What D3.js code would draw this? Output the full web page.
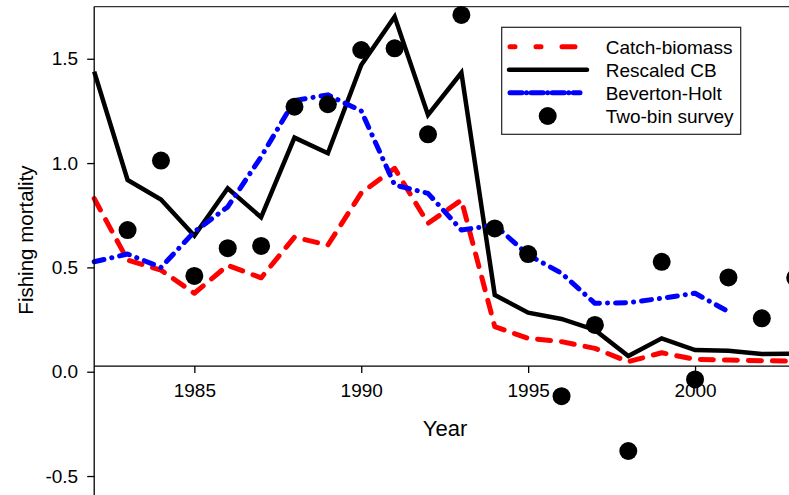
<!DOCTYPE html>
<html><head><meta charset="utf-8">
<script src="https://cdn.jsdelivr.net/npm/d3@7"></script>
<style>
body{margin:0;background:#fff}
svg{display:block}
text{font-family:"Liberation Sans",Arial,Helvetica,sans-serif;fill:#000}
</style>
</head><body>
<svg id="c" width="789" height="495"></svg>
<script>
// ---- data ----
const years = [1982,1983,1984,1985,1986,1987,1988,1989,1990,1991,1992,1993,1994,1995,1996,1997,1998,1999,2000,2001,2002,2003];
const catchBiomass = [0.83,0.535,0.487,0.376,0.51,0.45,0.645,0.607,0.857,0.975,0.711,0.823,0.216,0.16,0.144,0.112,0.048,0.091,0.059,0.056,0.053,0.05];
const rescaledCB = [1.438,0.919,0.825,0.652,0.879,0.74,1.122,1.047,1.47,1.702,1.231,1.433,0.368,0.283,0.253,0.2,0.075,0.16,0.104,0.1,0.085,0.087];
const bhYears = [1982,1983,1984,1985,1986,1987,1988,1989,1990,1991,1992,1993,1994,1995,1996,1997,1998,1999,2000,2001];
const bevertonHolt = [0.527,0.564,0.5,0.671,0.79,1.03,1.3,1.327,1.25,0.895,0.855,0.679,0.703,0.56,0.472,0.328,0.331,0.352,0.376,0.288];
const surveyYears = [1983,1984,1985,1986,1987,1988,1989,1990,1991,1992,1993,1994,1995,1996,1997,1998,1999,2000,2001,2002,2003];
const twoBinSurvey = [0.679,1.012,0.459,0.592,0.603,1.27,1.282,1.542,1.55,1.138,1.71,0.687,0.564,-0.117,0.224,-0.38,0.527,-0.037,0.452,0.256,0.45];
const xTicks = [1985,1990,1995,2000];
const yTicks = [-0.5,0.0,0.5,1.0,1.5];
const legendLabels = ["Catch-biomass","Rescaled CB","Beverton-Holt","Two-bin survey"];
const xAxisCross = 0.027;

// ---- layout ----
const svg = d3.select("#c");
const x = d3.scaleLinear().domain([1982, 2003]).range([94.2, 795.2]);
const y = d3.scaleLinear().domain([-0.6, 1.75]).range([496.9, 6.6]);
const font = 19;

// frame: top border
svg.append("line").attr("x1", x(1982)).attr("x2", 789).attr("y1", y(1.75)).attr("y2", y(1.75))
  .attr("stroke", "#333").attr("stroke-width", 1.3);

// series
const lineGen = (xs) => d3.line().x((d,i)=>x(xs[i])).y(d=>y(d));
svg.append("path").datum(catchBiomass).attr("d", lineGen(years))
  .attr("fill","none").attr("stroke","#ff0000").attr("stroke-width",5)
  .attr("stroke-dasharray","13,11").attr("stroke-linecap","round").attr("stroke-linejoin","round");
svg.append("path").datum(rescaledCB).attr("d", lineGen(years))
  .attr("fill","none").attr("stroke","#000").attr("stroke-width",4.5).attr("stroke-linejoin","miter");
svg.append("path").datum(bevertonHolt).attr("d", lineGen(bhYears))
  .attr("fill","none").attr("stroke","#0000ff").attr("stroke-width",5)
  .attr("stroke-dasharray","10,8,0.1,8").attr("stroke-linecap","round").attr("stroke-linejoin","round");
svg.append("g").selectAll("circle").data(twoBinSurvey).join("circle")
  .attr("cx",(d,i)=>x(surveyYears[i])).attr("cy",d=>y(d)).attr("r",9).attr("fill","#000");

// y axis
const yAxis = d3.axisLeft(y).tickValues(yTicks).tickFormat(d3.format(".1f")).tickSize(7).tickPadding(9);
const gy = svg.append("g").attr("transform",`translate(${x(1982)},0)`).call(yAxis);
gy.select(".domain").attr("d",`M0,${y(1.75)}V495`).attr("stroke","#000").attr("stroke-width",1.3);
gy.selectAll(".tick line").attr("stroke","#000").attr("stroke-width",1.3);
gy.selectAll(".tick text").attr("font-size",font).attr("font-family",null).attr("fill","#000");
gy.selectAll(".tick text").text(d => d < 0 ? "-" + Math.abs(d).toFixed(1) : d.toFixed(1));

// x axis
const xAxis = d3.axisBottom(x).tickValues(xTicks).tickFormat(d3.format("d")).tickSize(7).tickPadding(10);
const gx = svg.append("g").attr("transform",`translate(0,${y(xAxisCross)})`).call(xAxis);
gx.select(".domain").attr("d",`M${x(1982)},0H789`).attr("stroke","#000").attr("stroke-width",1.3);
gx.selectAll(".tick line").attr("stroke","#000").attr("stroke-width",1.3);
gx.selectAll(".tick text").attr("font-size",font).attr("font-family",null).attr("fill","#000");

// axis titles
svg.append("text").attr("x",445).attr("y",436).attr("text-anchor","middle").attr("font-size",22).text("Year");
svg.append("text").attr("transform","translate(33,240) rotate(-90)").attr("text-anchor","middle")
  .attr("font-size",20.5).text("Fishing mortality");

// legend
const lg = svg.append("g");
lg.append("rect").attr("x",501.7).attr("y",27.3).attr("width",239).attr("height",107)
  .attr("fill","#fff").attr("stroke","#222").attr("stroke-width",1.2);
const rowY = [46.7, 69.7, 92.7, 116];
lg.append("line").attr("x1",510).attr("x2",575).attr("y1",rowY[0]).attr("y2",rowY[0])
  .attr("stroke","#ff0000").attr("stroke-width",5).attr("stroke-linecap","round").attr("stroke-dasharray","5,21,5,21,13,100");
lg.append("line").attr("x1",509).attr("x2",587).attr("y1",rowY[1]).attr("y2",rowY[1])
  .attr("stroke","#000").attr("stroke-width",4.5).attr("stroke-linecap","round");
lg.append("line").attr("x1",510).attr("x2",580).attr("y1",rowY[2]).attr("y2",rowY[2])
  .attr("stroke","#0000ff").attr("stroke-width",5).attr("stroke-linecap","round").attr("stroke-dasharray","12,4.5,0.1,4.5");
lg.append("circle").attr("cx",547.7).attr("cy",rowY[3]).attr("r",9).attr("fill","#000");
lg.selectAll("text.lab").data(legendLabels).join("text").attr("class","lab")
  .attr("x",605.7).attr("y",(d,i)=>rowY[i]+6.8).attr("font-size",font).text(d=>d);
</script>
</body></html>
